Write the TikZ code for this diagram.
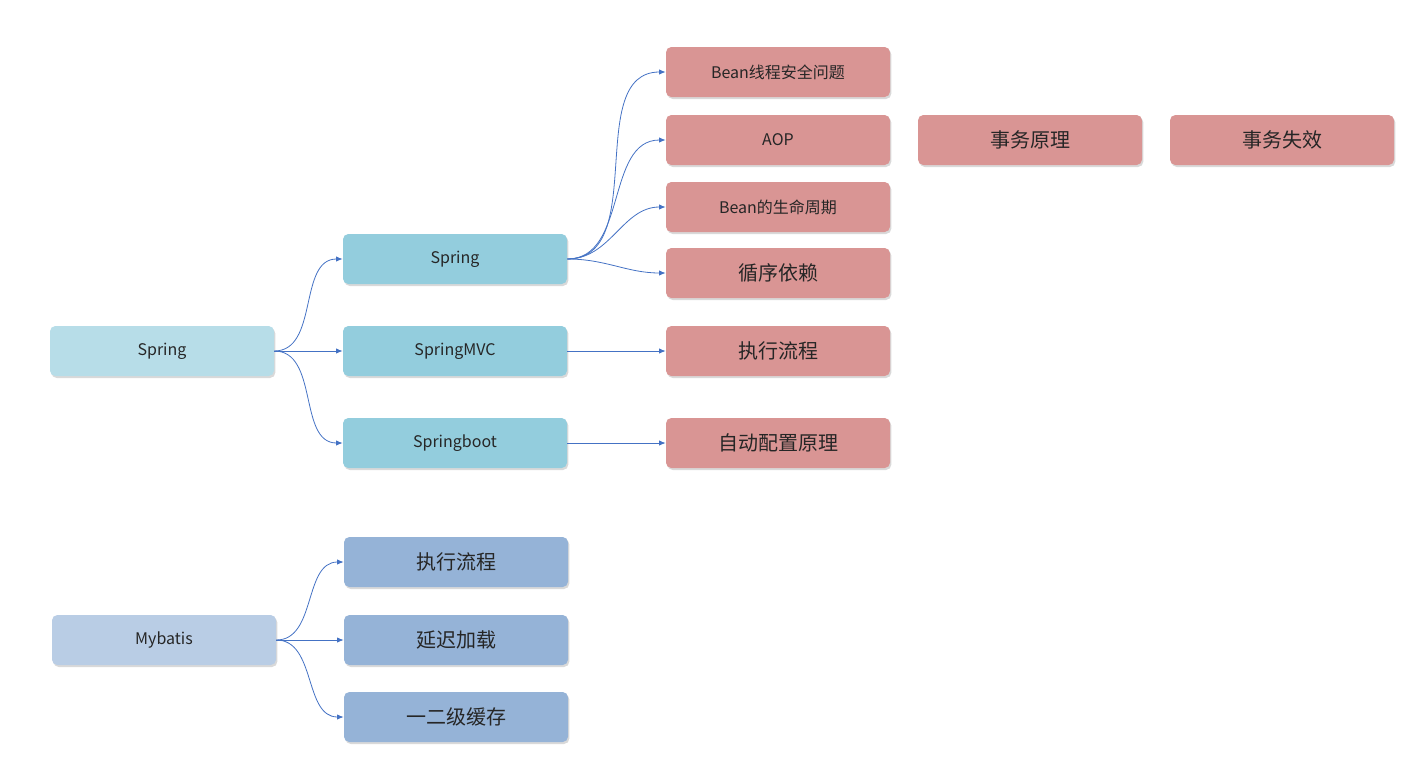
\documentclass[tikz,border=0pt]{standalone}
\usepackage{fontspec}
\setmainfont{Noto Sans CJK SC}
\usetikzlibrary{shadows,arrows.meta}
\definecolor{rootA}{HTML}{B7DDE8}
\definecolor{midA}{HTML}{93CDDD}
\definecolor{leafR}{HTML}{D99594}
\definecolor{rootB}{HTML}{B9CDE5}
\definecolor{midB}{HTML}{95B3D7}
\definecolor{lnk}{HTML}{4472C4}
\tikzset{
 box/.style={rounded corners=4pt,minimum width=168pt,minimum height=37.5pt,inner sep=0pt,
   text=black!85,drop shadow={shadow xshift=1pt,shadow yshift=-1.5pt,opacity=0.3}},
 lat/.style={font=\fontsize{12}{14}\selectfont},
 cjk/.style={font=\fontsize{15}{17}\selectfont},
 ra/.style={box,fill=rootA},
 ma/.style={box,fill=midA},
 lr/.style={box,fill=leafR},
 rb/.style={box,fill=rootB},
 mb/.style={box,fill=midB},
 con/.style={draw=lnk,line width=0.6pt,-{Latex[length=5pt,width=4pt]}},
}
\begin{document}
\begin{tikzpicture}[x=0.75pt,y=-0.75pt]
\useasboundingbox (0,0) rectangle (1428,782);
\node[ra,lat] (sp) at (162,351) {Spring};
\node[ma,lat] (s1) at (455,259) {Spring};
\node[ma,lat] (s2) at (455,351) {SpringMVC};
\node[ma,lat] (s3) at (455,443) {Springboot};
\node[lr,lat] (b1) at (778,72) {Bean线程安全问题};
\node[lr,lat] (b2) at (778,140) {AOP};
\node[lr,lat] (b3) at (778,207) {Bean的生命周期};
\node[lr,cjk] (b4) at (778,273) {循序依赖};
\node[lr,cjk] (b5) at (778,351) {执行流程};
\node[lr,cjk] (b6) at (778,443) {自动配置原理};
\node[lr,cjk] (t1) at (1030,140) {事务原理};
\node[lr,cjk] (t2) at (1282,140) {事务失效};
\node[rb,lat] (mb) at (164,640) {Mybatis};
\node[mb,cjk] (m1) at (456,562) {执行流程};
\node[mb,cjk] (m2) at (456,640) {延迟加载};
\node[mb,cjk] (m3) at (456,717) {一二级缓存};
\foreach \c in {s1,s3} \draw[con] (sp.east) to[out=0,in=180] (\c.west);
\draw[con] (sp.east) -- (s2.west);
\foreach \c in {b1,b2,b3,b4} \draw[con] (s1.east) to[out=0,in=180] (\c.west);
\draw[con] (s2.east) -- (b5.west);
\draw[con] (s3.east) -- (b6.west);
\foreach \c in {m1,m3} \draw[con] (mb.east) to[out=0,in=180] (\c.west);
\draw[con] (mb.east) -- (m2.west);
\end{tikzpicture}
\end{document}
